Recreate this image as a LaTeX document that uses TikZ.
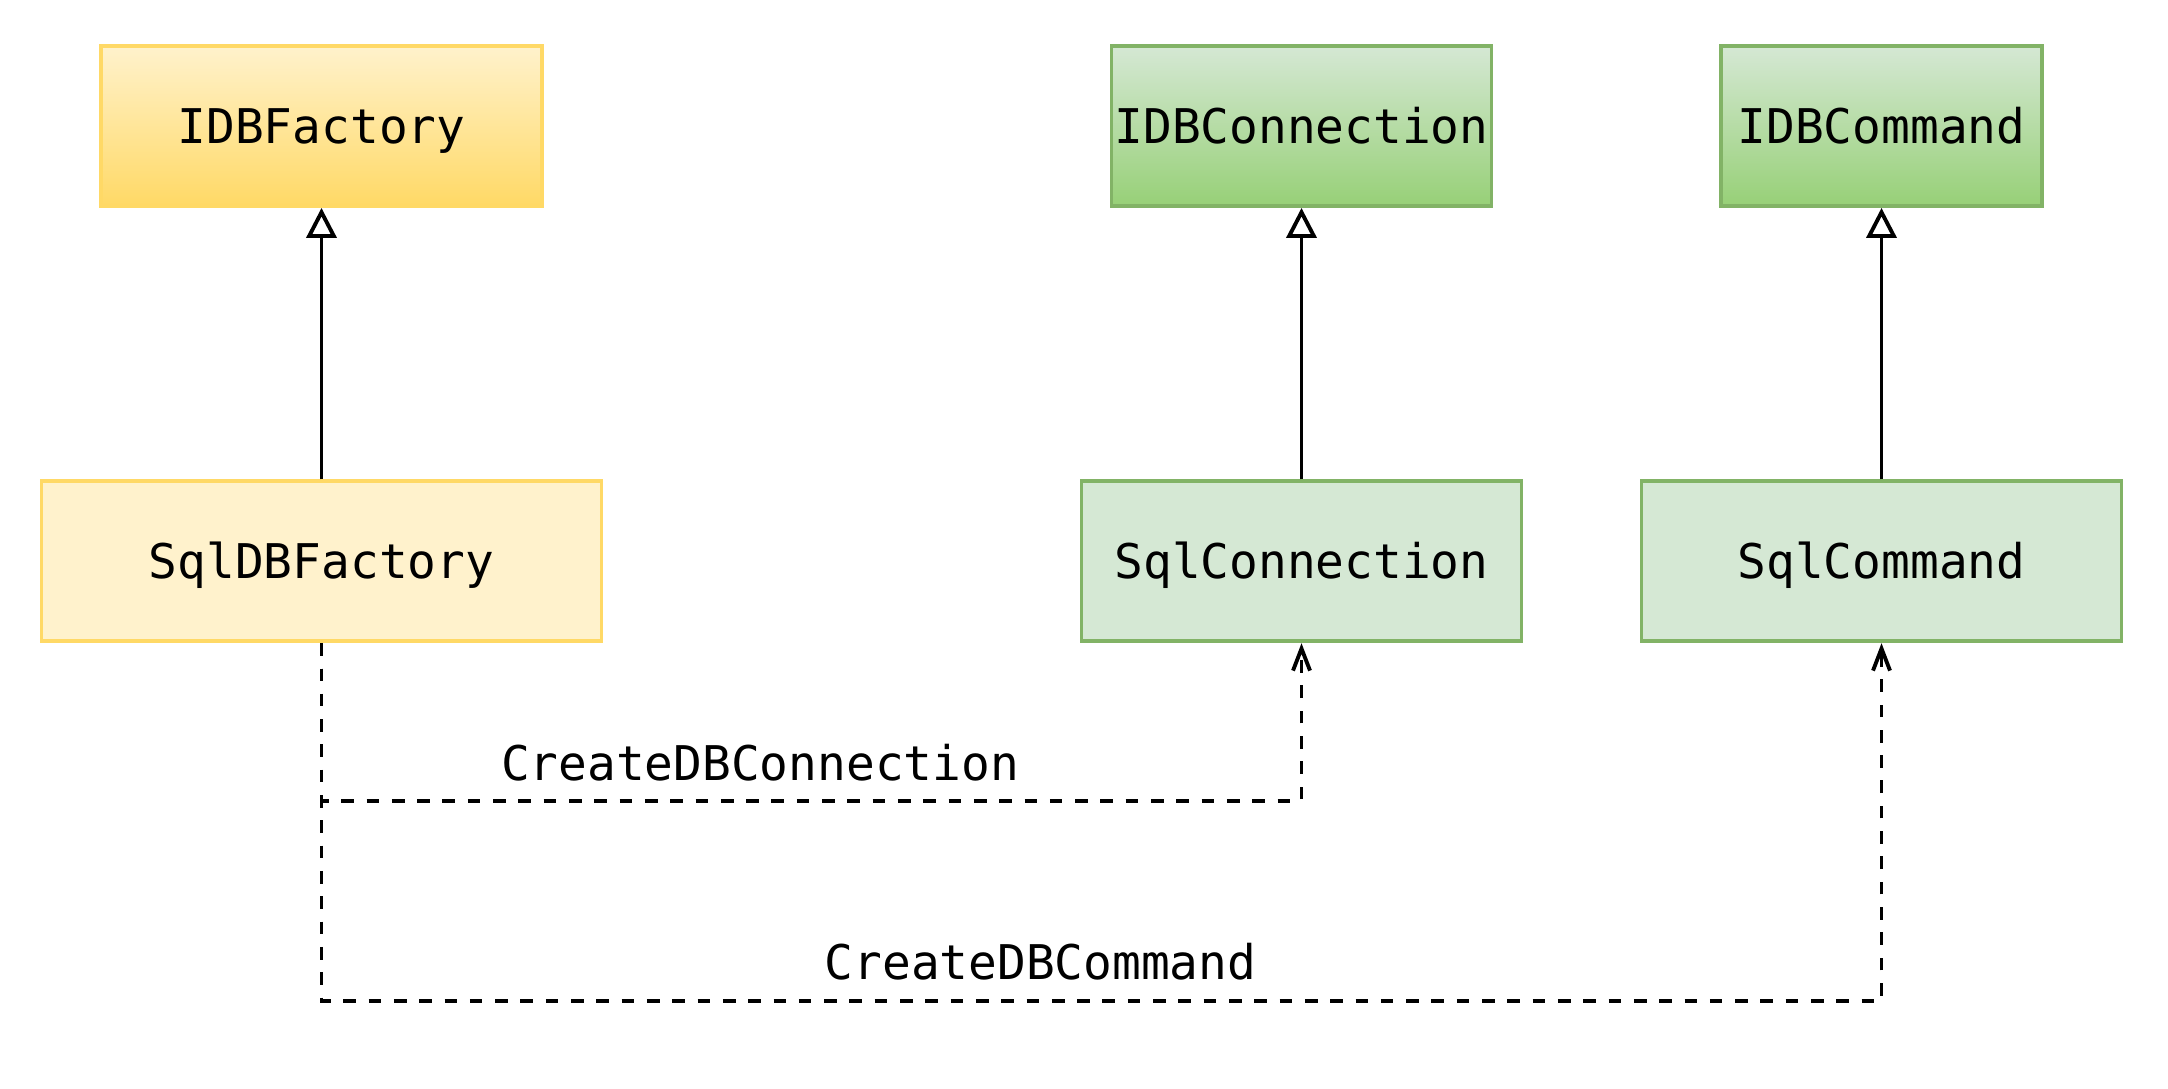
\documentclass[tikz,border=0pt]{standalone}
\usepackage{fontspec}
\setmonofont{DejaVu Sans Mono}
\usetikzlibrary{arrows.meta}
\definecolor{ylwfill}{HTML}{FFF2CC}
\definecolor{ylwdark}{HTML}{FFD966}
\definecolor{grnfill}{HTML}{D5E8D4}
\definecolor{grndark}{HTML}{97D077}
\definecolor{grnline}{HTML}{82B366}
\begin{document}
\begin{tikzpicture}[every node/.style={font=\fontsize{13.6pt}{16pt}\ttfamily},
  cls/.style={rectangle, draw, line width=1.1pt, inner sep=0pt, minimum height=1.60cm, text height=12.9pt, text depth=3pt},
  ifacecls/.style={cls, top color=#1fill, bottom color=#1dark},
  implcls/.style={cls, fill=#1fill},
  inherit/.style={line width=1.1pt, -{Triangle[open, length=0.3cm, width=0.3cm, fill=white]}},
  dep/.style={line width=1.1pt, dash pattern=on 3.6pt off 3.6pt, -{Straight Barb[length=0.22cm, width=0.17cm]}}]
  \useasboundingbox (0,0) rectangle (21.68,10.88);
  % interfaces (top row)
  \node[ifacecls=ylw, draw=ylwdark, minimum width=4.41cm] (ifac) at (3.215,9.62) {IDBFactory};
  \node[ifacecls=grn, draw=grnline, minimum width=3.80cm] (icon) at (13.015,9.62) {IDBConnection};
  \node[ifacecls=grn, draw=grnline, minimum width=3.21cm] (icmd) at (18.815,9.62) {IDBCommand};
  % implementations (middle row)
  \node[implcls=ylw, draw=ylwdark, minimum width=5.60cm] (sfac) at (3.215,5.267) {SqlDBFactory};
  \node[implcls=grn, draw=grnline, minimum width=4.40cm] (scon) at (13.015,5.267) {SqlConnection};
  \node[implcls=grn, draw=grnline, minimum width=4.80cm] (scmd) at (18.815,5.267) {SqlCommand};
  % generalisation
  \draw[inherit] (sfac) -- (ifac);
  \draw[inherit] (scon) -- (icon);
  \draw[inherit] (scmd) -- (icmd);
  % factory methods
  \coordinate (bend1) at (3.215,2.874);
  \coordinate (bend2) at (3.215,0.87);
  \draw[dep] (sfac.south) -- (bend1) -| (scon.south);
  \draw[dep] (sfac.south) -- (bend2) -| (scmd.south);
  \node (lconn) at (7.60,3.25) {CreateDBConnection};
  \node (lcmd) at (10.405,1.26) {CreateDBCommand};
\end{tikzpicture}
\end{document}
